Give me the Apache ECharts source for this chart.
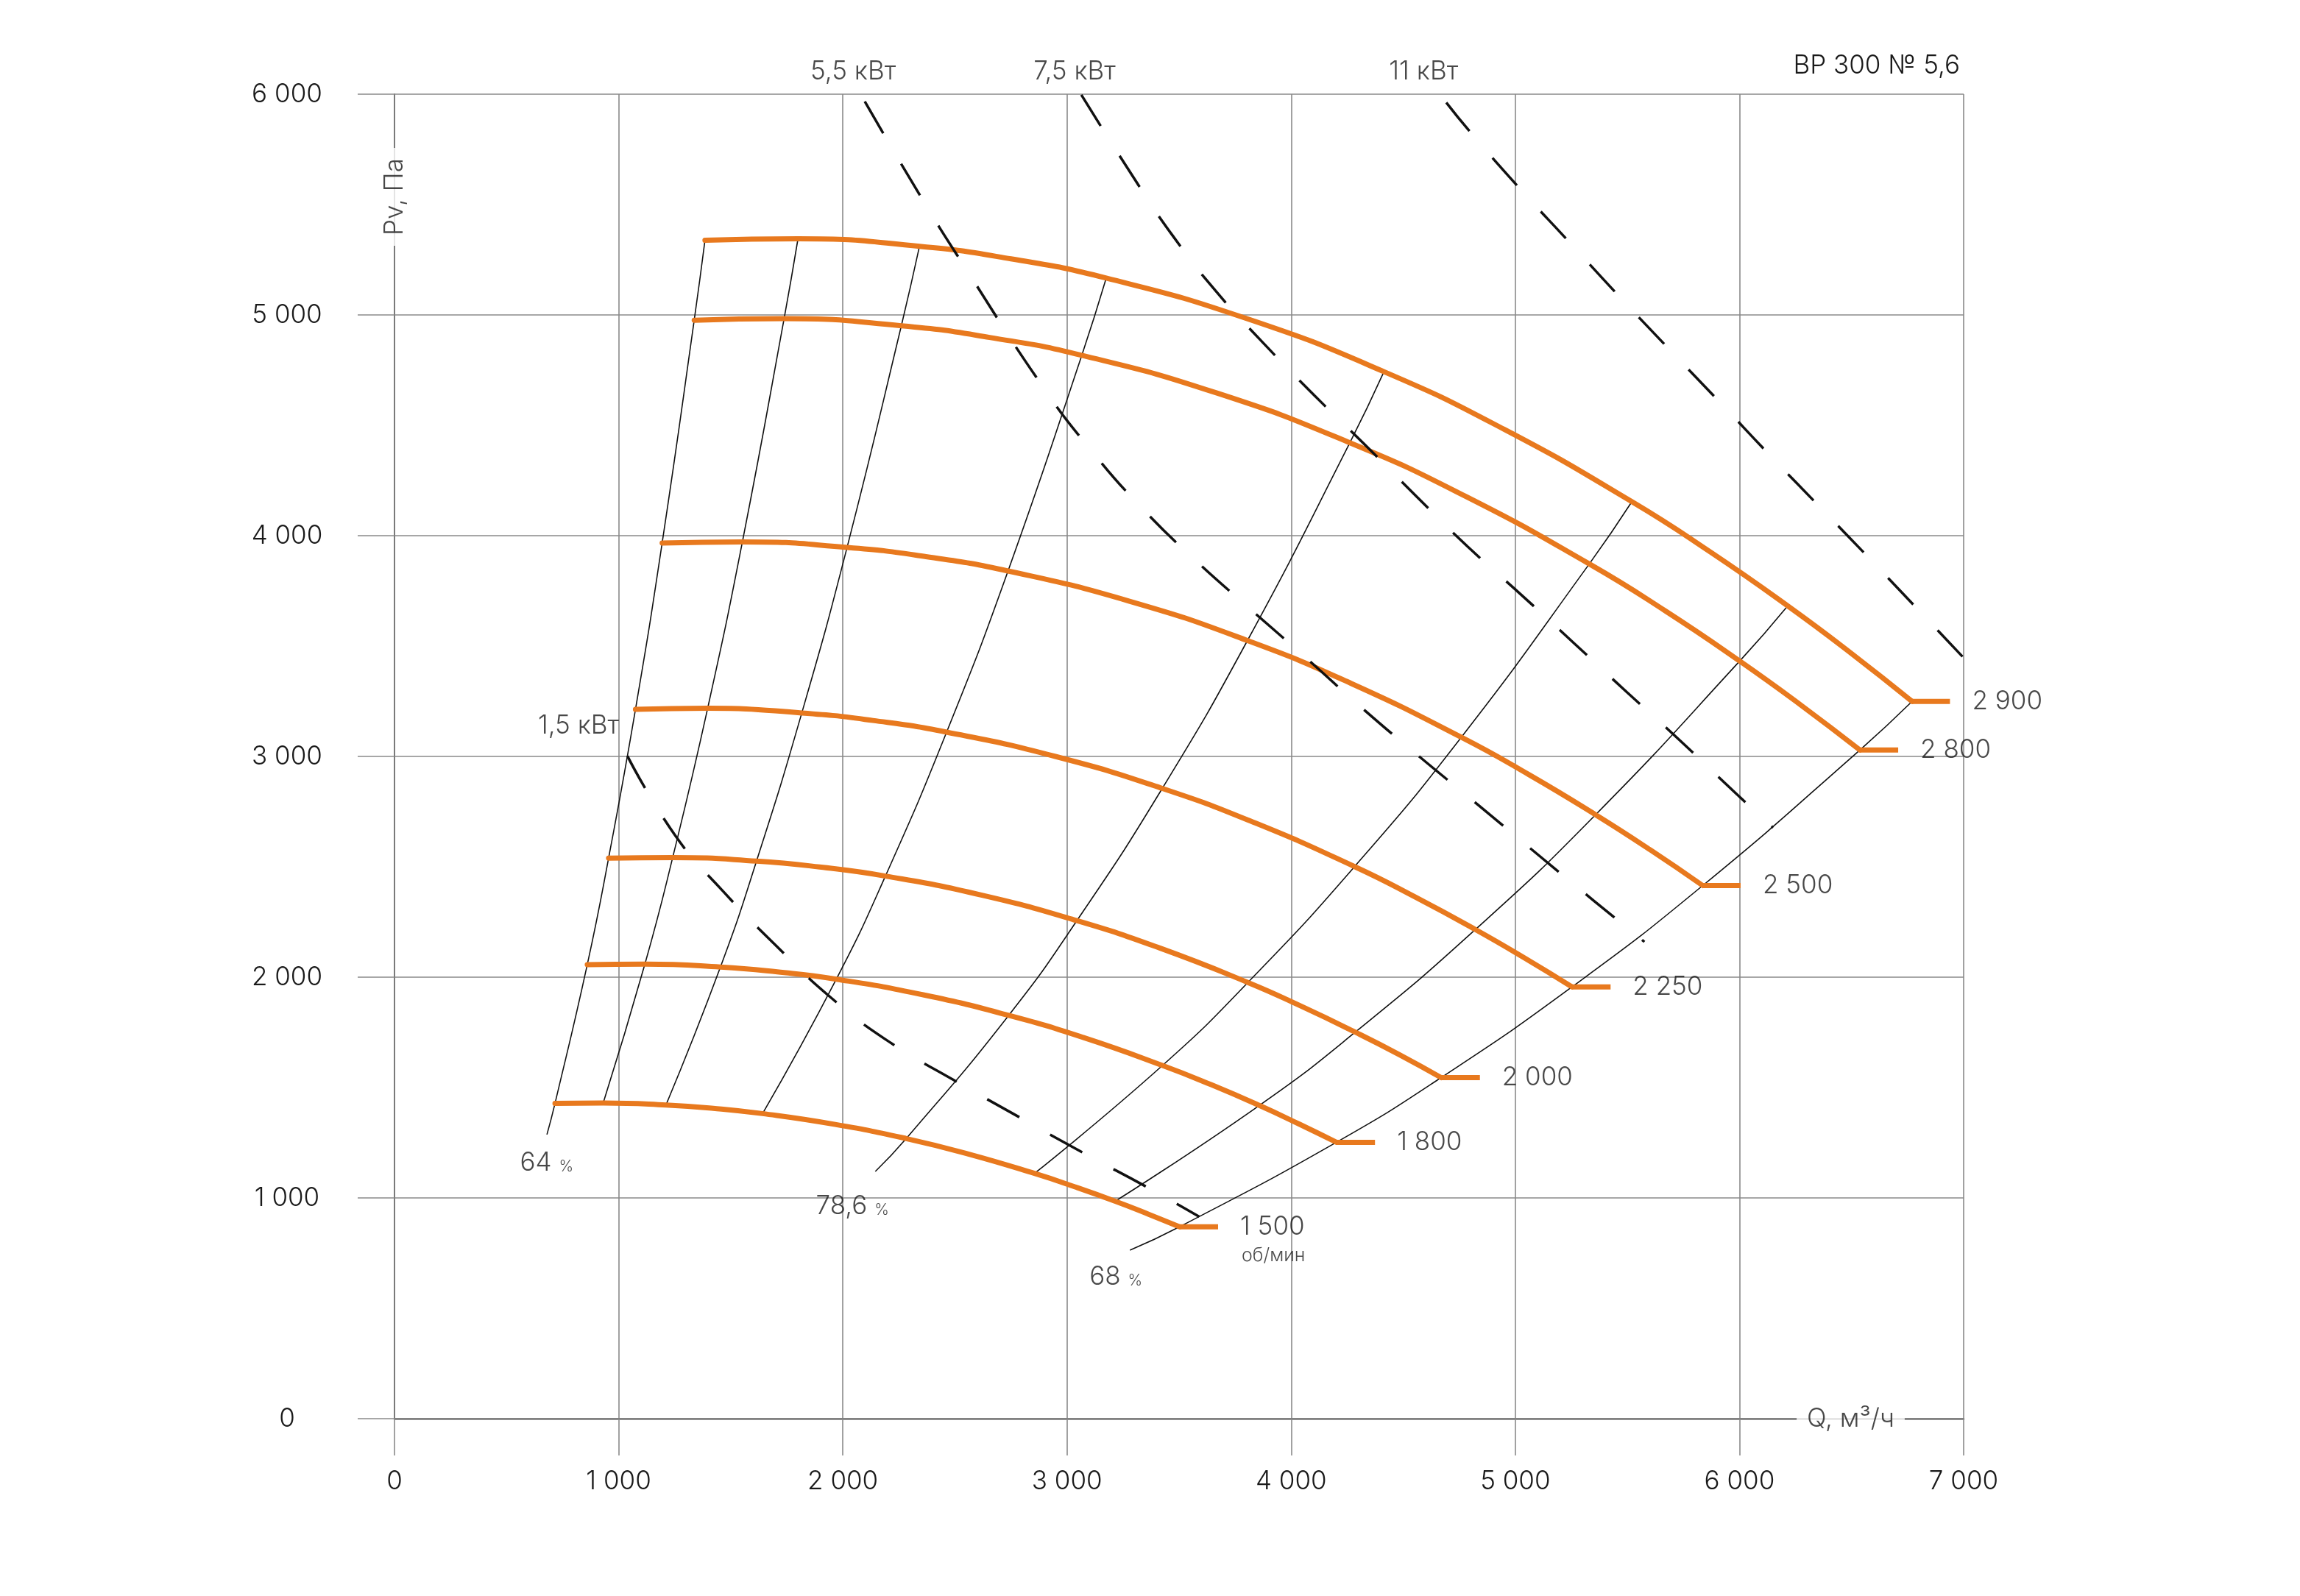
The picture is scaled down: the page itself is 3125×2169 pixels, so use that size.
<!DOCTYPE html>
<html><head><meta charset="utf-8">
<script src="https://cdn.jsdelivr.net/npm/echarts@6/dist/echarts.min.js"></script>
<style>html,body{margin:0;padding:0;background:#fff}#c{width:3125px;height:2169px}</style>
</head><body><div id="c"></div>
<script>
// ---- axes ----
const xTicks = [0, 1000, 2000, 3000, 4000, 5000, 6000, 7000];
const yTicks = [0, 1000, 2000, 3000, 4000, 5000, 6000];
const xAxisName = 'Q, м³/ч';
const yAxisName = 'Pv, Па';
const chartTitle = 'ВР 300 № 5,6';

// ---- speed curves (Q m3/h, Pv Pa) ----
const speedLabels = ['1 500', '1 800', '2 000', '2 250', '2 500', '2 800', '2 900'];
const curve1500 = [[716,1428],[931,1430],[1211,1421],[1422,1406],[1642,1382],[1966,1333],[2283,1269],[2560,1199],[2855,1111],[3036,1050],[3215,985],[3362,927],[3502,869]];
const curve1800 = [[860,2057],[1117,2059],[1454,2046],[1707,2024],[1971,1991],[2359,1920],[2740,1827],[3072,1727],[3426,1600],[3643,1513],[3858,1419],[4035,1335],[4202,1252]];
const curve2000 = [[955,2539],[1241,2542],[1615,2526],[1897,2499],[2190,2458],[2621,2371],[3044,2256],[3414,2132],[3807,1976],[4048,1867],[4286,1751],[4483,1649],[4669,1545]];
const curve2250 = [[1075,3213],[1397,3218],[1817,3197],[2134,3163],[2463,3110],[2948,3000],[3425,2855],[3841,2698],[4283,2501],[4554,2363],[4822,2216],[5043,2086],[5253,1956]];
const curve2500 = [[1194,3967],[1552,3972],[2019,3947],[2371,3905],[2737,3840],[3276,3704],[3805,3525],[4267,3331],[4759,3087],[5060,2918],[5358,2736],[5603,2576],[5836,2415]];
const curve2800 = [[1337,4976],[1738,4983],[2261,4951],[2655,4898],[3066,4817],[3669,4646],[4262,4421],[4779,4178],[5330,3872],[5668,3660],[6001,3432],[6276,3231],[6537,3029]];
const curve2900 = [[1385,5338],[1800,5345],[2342,5311],[2750,5254],[3175,5167],[3800,4984],[4414,4743],[4950,4482],[5520,4154],[5870,3926],[6215,3682],[6500,3466],[6770,3249]];
const speedCurves = [curve1500, curve1800, curve2000, curve2250, curve2500, curve2800, curve2900];
const stubEndQ = [3674, 4374, 4842, 5425, 6005, 6708, 6939];
const rpmUnit = 'об/мин';

// ---- efficiency lines ----
const effLabels = ['64', '', '', '', '78,6', '', '', '68'];
const eff1 = [[680,1287],[716,1428],[860,2057],[955,2539],[1075,3213],[1194,3967],[1337,4976],[1385,5338]];
const eff2 = [[931,1430],[1117,2059],[1241,2542],[1397,3218],[1552,3972],[1738,4983],[1800,5345]];
const eff3 = [[1211,1421],[1454,2046],[1615,2526],[1817,3197],[2019,3947],[2261,4951],[2342,5311]];
const eff4 = [[1642,1382],[1971,1991],[2190,2458],[2463,3110],[2737,3840],[3066,4817],[3175,5167]];
const eff5 = [[2145,1120],[2283,1269],[2740,1827],[3044,2256],[3425,2855],[3805,3525],[4262,4421],[4414,4743]];
const eff6 = [[2855,1111],[3426,1600],[3807,1976],[4283,2501],[4759,3087],[5330,3872],[5520,4154]];
const eff7 = [[3215,985],[3858,1419],[4286,1751],[4822,2216],[5358,2736],[6001,3432],[6215,3682]];
const eff8 = [[3281,763],[3502,869],[4202,1252],[4669,1545],[5253,1956],[5836,2415],[6537,3029],[6770,3249]];
const effLines = [eff1, eff2, eff3, eff4, eff5, eff6, eff7, eff8];

// ---- power lines (dashed) ----
const powerLabels = ['1,5 кВт', '5,5 кВт', '7,5 кВт', '11 кВт'];
const pw15 = [[1039,3002],[1253,2641],[1467,2388],[1705,2140],[1944,1910],[2207,1707],[2496,1533],[2785,1367],[3074,1203],[3364,1045],[3590,915]];
const pw55 = [[2098,5967],[2357,5520],[2534,5233],[2900,4663],[3105,4390],[3327,4133],[3566,3895],[3816,3669],[4069,3444],[4322,3214],[4577,2995],[4837,2778],[5095,2560],[5353,2344],[5576,2160]];
const pw75 = [[3064,5997],[3296,5624],[3473,5357],[3665,5107],[3885,4863],[4104,4635],[4322,4419],[4556,4181],[4788,3950],[5031,3728],[5264,3511],[5498,3291],[5736,3071],[5971,2845],[6150,2677]];
const pw11 = [[4692,5962],[4796,5832],[5014,5579],[5237,5334],[5460,5088],[5686,4845],[5912,4605],[6136,4364],[6367,4121],[6592,3884],[6819,3641],[6995,3452]];
const powerLines = [pw15, pw55, pw75, pw11];

// ---- label anchors (data units) ----
const powerLabelAnchors = [[640,3140,'left'],[2046,6103,'center'],[3034,6103,'center'],[4591,6103,'center']];
const effLabelAnchors = [[560,1167],null,null,null,[1880,970],null,null,[3100,650]];
const rpmUnitAnchor = [3779,737];
const yNameAnchor = [0,5535];
const xNameAnchor = [6496,0];

// ---- styles ----
const FONT = 'Inter, "Noto Sans", "DejaVu Sans", sans-serif';
const FW = 300;
const ORANGE = '#E8791E';
const GRID = '#8a8a8a';
const TXT = '#1a1a1a';
const FS = 35;

const fmt = v => v === 0 ? '0' : (v / 1000) + ' 000';

const series = [];
effLines.forEach(d => series.push({
  type: 'line', data: d, smooth: 0.5, symbol: 'none', silent: true, z: 2,
  lineStyle: { color: '#111', width: 1.6 }
}));
speedCurves.forEach((d, i) => {
  series.push({
    type: 'line', data: d, smooth: 0.5, symbol: 'none', silent: true, z: 4,
    lineStyle: { color: ORANGE, width: 7, cap: 'round', join: 'round' }
  });
  const last = d[d.length - 1];
  series.push({
    type: 'line', data: [last, [stubEndQ[i], last[1]]], symbol: 'none', silent: true, z: 4,
    lineStyle: { color: ORANGE, width: 7, cap: 'butt' }
  });
});
powerLines.forEach(d => series.push({
  type: 'line', data: d, smooth: 0.5, symbol: 'none', silent: true, z: 5,
  lineStyle: { color: '#111', width: 3.5, type: [50, 48], cap: 'butt' }
}));

const labelData = [];
speedLabels.forEach((t, i) => {
  const last = speedCurves[i][speedCurves[i].length - 1];
  labelData.push({ value: [stubEndQ[i], last[1]], name: t,
    label: { position: 'right', distance: 30, fontSize: FS } });
});
labelData.push({ value: rpmUnitAnchor, name: rpmUnit,
  label: { position: 'right', distance: 0, fontSize: 25 } });
powerLabels.forEach((t, i) => {
  const a = powerLabelAnchors[i];
  labelData.push({ value: [a[0], a[1]], name: t,
    label: a[2] === 'left' ? { position: 'right', distance: 0, fontSize: FS } : { position: 'inside', fontSize: FS } });
});
effLabels.forEach((t, i) => {
  if (!t) return;
  const a = effLabelAnchors[i];
  labelData.push({ value: a, name: t,
    label: { position: 'right', distance: 0, formatter: '{a|' + t + '} {b|%}',
      rich: { a: { fontSize: FS, fontFamily: FONT, fontWeight: FW, color: TXT, verticalAlign: 'bottom', lineHeight: 40 },
              b: { fontSize: 21, fontFamily: FONT, fontWeight: FW, color: TXT, verticalAlign: 'bottom', lineHeight: 40, padding: [0,0,2,0] } } } });
});
labelData.push({ value: yNameAnchor, name: yAxisName,
  label: { position: 'inside', rotate: 90, fontSize: FS, backgroundColor: '#fff', padding: [2, 14] } });
labelData.push({ value: xNameAnchor, name: xAxisName,
  label: { position: 'inside', fontSize: FS, backgroundColor: '#fff', padding: [2, 14] } });

series.push({
  type: 'scatter', data: labelData, symbolSize: 0, clip: false, silent: true, z: 10,
  label: { show: true, formatter: '{b}', color: TXT, fontFamily: FONT, fontWeight: FW, fontSize: FS }
});

const chart = echarts.init(document.getElementById('c'), null, { renderer: 'canvas' });
chart.setOption({
  animation: false,
  backgroundColor: '#fff',
  title: { text: chartTitle, right: 457, top: 67,
    textStyle: { fontSize: 35, fontWeight: FW, color: TXT, fontFamily: FONT } },
  grid: { left: 536, right: 457, top: 128, bottom: 241 },
  xAxis: {
    type: 'value', min: xTicks[0], max: xTicks[xTicks.length - 1], interval: 1000,
    axisLine: { show: true, onZero: false, lineStyle: { color: '#7a7a7a', width: 2.5 } },
    axisTick: { show: true, length: 50, lineStyle: { color: GRID, width: 1.6 } },
    axisLabel: { margin: 68, fontSize: FS, color: TXT, fontFamily: FONT, fontWeight: FW, formatter: fmt },
    splitLine: { show: true, lineStyle: { color: GRID, width: 1.6 } }
  },
  yAxis: {
    type: 'value', min: yTicks[0], max: yTicks[yTicks.length - 1], interval: 1000,
    axisLine: { show: true, onZero: false, lineStyle: { color: '#7a7a7a', width: 2 } },
    axisTick: { show: true, length: 50, lineStyle: { color: GRID, width: 1.6 } },
    axisLabel: { margin: 146, align: 'center', fontSize: FS, color: TXT, fontFamily: FONT, fontWeight: FW, formatter: fmt },
    splitLine: { show: true, lineStyle: { color: GRID, width: 1.6 } }
  },
  series: series
});
</script>
</body></html>
